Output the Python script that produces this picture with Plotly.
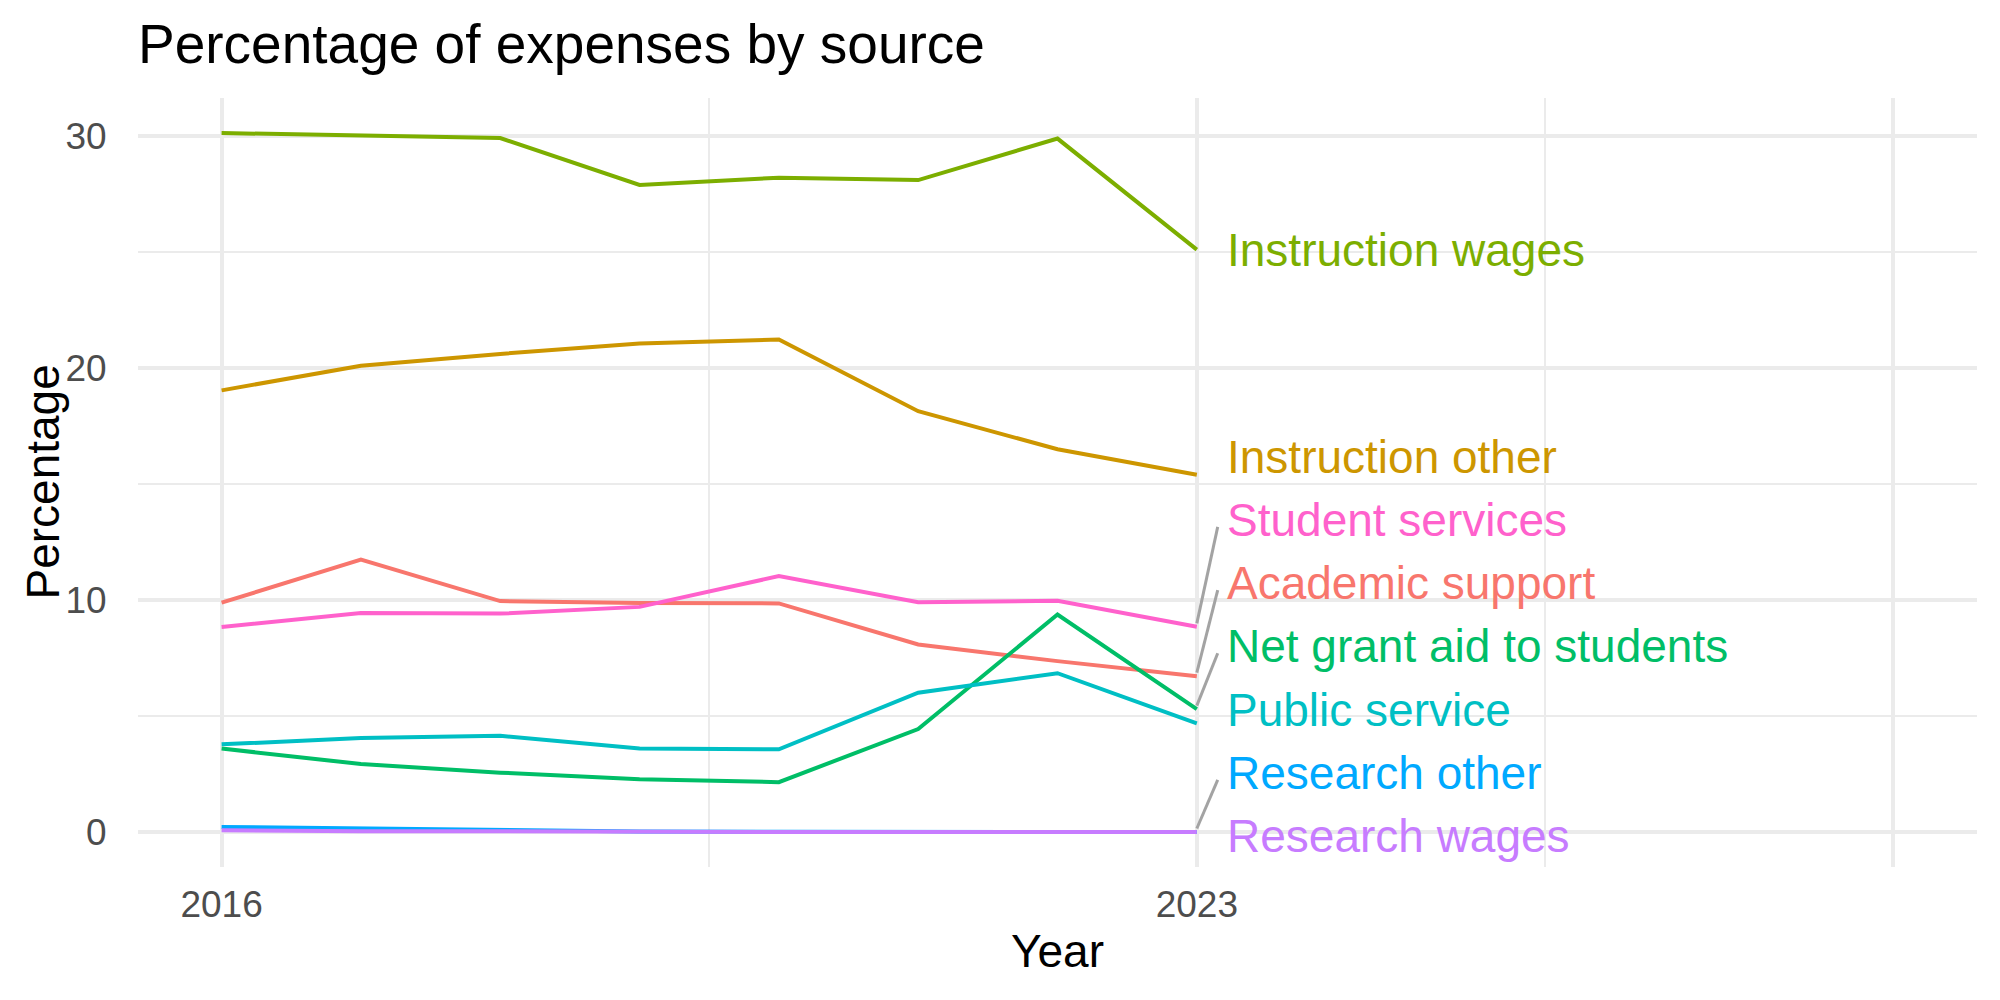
import plotly.graph_objects as go

# ---------------- data ----------------
years = [2016, 2017, 2018, 2019, 2020, 2021, 2022, 2023]

academic_support = [9.89, 11.75, 9.96, 9.88, 9.86, 8.09, 7.37, 6.72]
instruction_other = [19.05, 20.11, 20.62, 21.07, 21.24, 18.15, 16.51, 15.41]
instruction_wages = [30.15, 30.06, 29.93, 27.91, 28.22, 28.12, 29.91, 25.12]
net_grant_aid = [3.60, 2.93, 2.56, 2.27, 2.15, 4.44, 9.38, 5.30]
public_service = [3.78, 4.05, 4.15, 3.60, 3.57, 6.01, 6.85, 4.68]
research_other = [0.22, 0.15, 0.12, 0.02, 0.01, 0.01, 0.01, 0.0]
research_wages = [0.08, 0.03, 0.03, 0.0, 0.0, 0.0, 0.0, 0.0]
student_services = [8.84, 9.45, 9.42, 9.71, 11.04, 9.91, 9.97, 8.85]

series_names = ["Academic support", "Instruction other", "Instruction wages",
                "Net grant aid to students", "Public service", "Research other",
                "Research wages", "Student services"]
series_values = [academic_support, instruction_other, instruction_wages,
                 net_grant_aid, public_service, research_other,
                 research_wages, student_services]

x_tick_vals = [2016, 2023, 2028]
x_tick_text = ["2016", "2023", ""]
y_tick_vals = [0, 10, 20, 30]

# ---------------- layout / style ----------------
colors = ["#F8766D", "#CD9600", "#7CAE00", "#00BE67", "#00BFC4",
          "#00A9FF", "#C77CFF", "#FF61CC"]
# repelled label positions (y in data units) and whether a connector is drawn
label_y = {"Academic support": 10.73, "Instruction other": 16.17,
           "Instruction wages": 25.10, "Net grant aid to students": 8.01,
           "Public service": 5.26, "Research other": 2.55,
           "Research wages": -0.16, "Student services": 13.46}
has_segment = {"Academic support", "Net grant aid to students",
               "Research other", "Student services"}
label_x = 2023.2
FONT = "Liberation Sans, Arial, Helvetica, sans-serif"

fig = go.Figure()

for name, vals, col in zip(series_names, series_values, colors):
    fig.add_trace(go.Scatter(x=years, y=vals, mode="lines", name=name,
                             line=dict(color=col, width=4), showlegend=False,
                             hoverinfo="skip"))

# connector segments
for name, vals in zip(series_names, series_values):
    if name in has_segment:
        fig.add_trace(go.Scatter(x=[years[-1], years[-1] + 0.15],
                                 y=[vals[-1] + 0.15, label_y[name] - 0.3],
                                 mode="lines", line=dict(color="#A3A3A3", width=3),
                                 showlegend=False, hoverinfo="skip"))

for name, col in zip(series_names, colors):
    fig.add_annotation(x=label_x, y=label_y[name], xref="x", yref="y",
                       text=name, showarrow=False, xanchor="left", yanchor="middle",
                       font=dict(family=FONT, size=46, color=col))

# y axis title placed as rotated text left of the tick labels
fig.add_annotation(x=(42 - 138) / 1839, y=0.5, xref="paper", yref="paper",
                   text="Percentage", textangle=-90, showarrow=False,
                   xanchor="center", yanchor="middle",
                   font=dict(family=FONT, size=46, color="black"))

fig.update_layout(
    width=2000, height=1000,
    paper_bgcolor="white", plot_bgcolor="white",
    margin=dict(l=138, r=23, t=98, b=133),
    title=dict(text="Percentage of expenses by source", x=138 / 2000, xref="container",
               xanchor="left", y=1 - 44 / 1000, yref="container", yanchor="middle",
               font=dict(family=FONT, size=55, color="black")),
    xaxis=dict(range=[2015.4, 2028.6], tickmode="array", tickvals=x_tick_vals,
               ticktext=x_tick_text, showgrid=True, gridcolor="#EBEBEB", gridwidth=3.6,
               zeroline=False, showline=False, ticks="outside", ticklen=5,
               tickcolor="rgba(0,0,0,0)",
               tickfont=dict(family=FONT, size=37, color="#4D4D4D"),
               minor=dict(tickmode="array", tickvals=[2019.5, 2025.5], showgrid=True,
                          gridcolor="#EBEBEB", gridwidth=1.8, ticks=""),
               title=dict(text="Year", font=dict(family=FONT, size=46, color="black"),
                          standoff=10)),
    yaxis=dict(range=[-1.51, 31.66], tickmode="array", tickvals=y_tick_vals,
               showgrid=True, gridcolor="#EBEBEB", gridwidth=3.6,
               zeroline=False, showline=False, ticks="outside", ticklen=23,
               tickcolor="rgba(0,0,0,0)",
               tickfont=dict(family=FONT, size=37, color="#4D4D4D"),
               minor=dict(tickmode="array", tickvals=[5, 15, 25], showgrid=True,
                          gridcolor="#EBEBEB", gridwidth=1.8, ticks="")),
)

fig.write_html("out.html")
